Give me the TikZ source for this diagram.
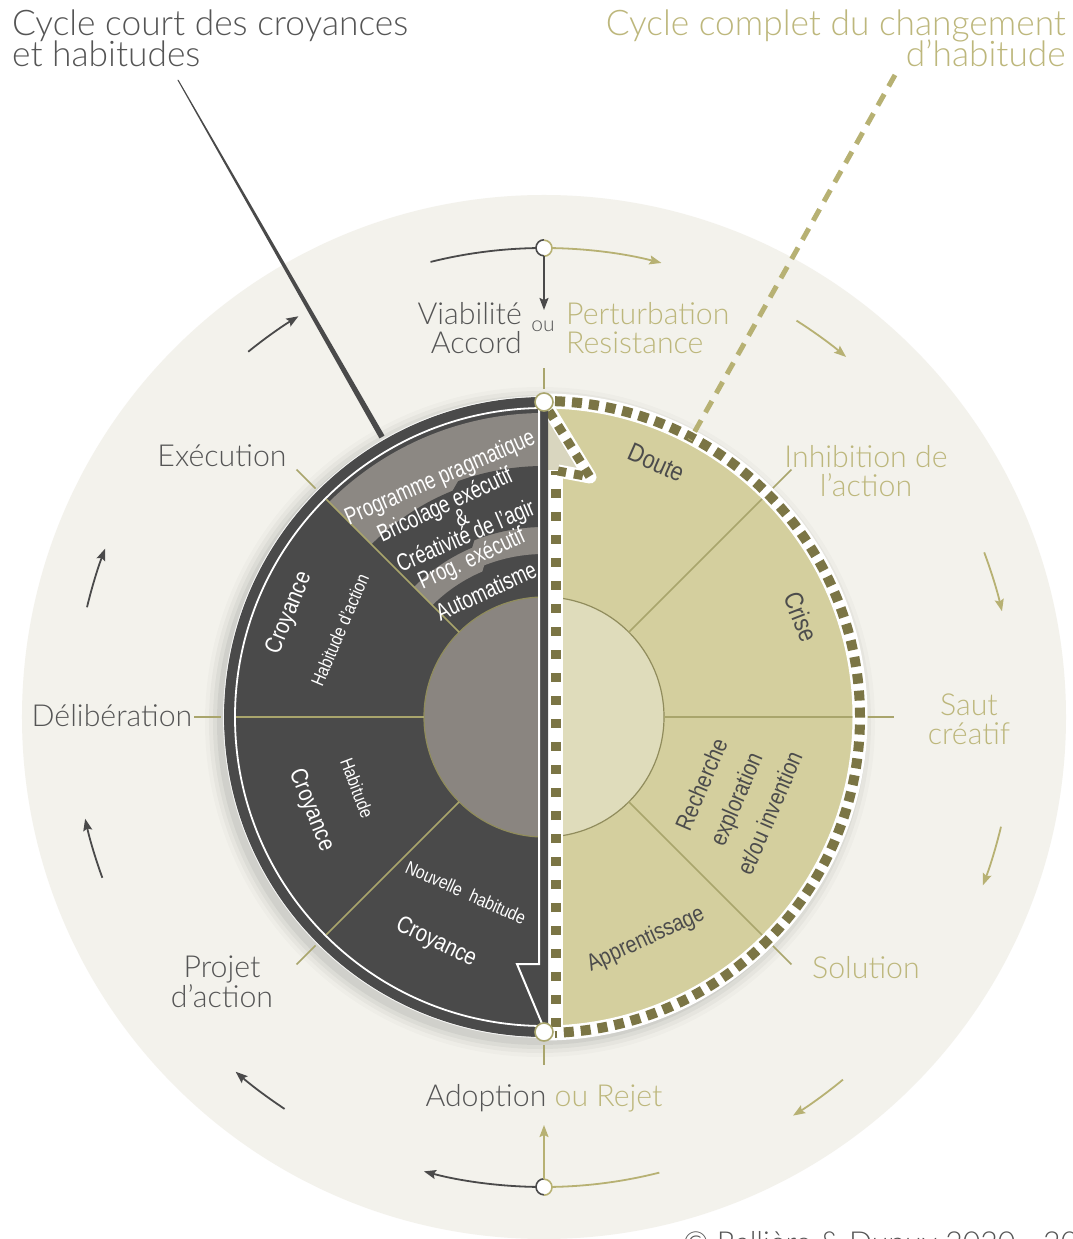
\documentclass[tikz,border=0pt]{standalone}
\usepackage{fontspec}
\IfFontExistsTF{Lato Light}{\newfontfamily\lightf{Lato Light}}{\newfontfamily\lightf{Liberation Sans}}
\newfontfamily\condf[FakeStretch=0.84]{Liberation Sans}
\newfontfamily\condn[FakeStretch=0.76]{Liberation Sans}
\usetikzlibrary{arrows.meta}
\definecolor{cream}{HTML}{F3F2EC}
\definecolor{darkdisk}{HTML}{4A4A4A}
\definecolor{bandgray}{HTML}{8C8883}
\definecolor{innergray}{HTML}{8A8580}
\definecolor{olivefill}{HTML}{D4CF9E}
\definecolor{innerolive}{HTML}{DFDCBB}
\definecolor{oliveline}{HTML}{A9A56C}
\definecolor{olivedash}{HTML}{7B7545}
\definecolor{olivetext}{HTML}{BDB77C}
\definecolor{olivearrow}{HTML}{B7B173}
\definecolor{labeldark}{HTML}{555555}
\definecolor{sectortext}{HTML}{4C4C4C}
\definecolor{arrowdark}{HTML}{4A4A4A}
\definecolor{tipfill}{HTML}{D9D6BF}
\begin{document}
\begin{tikzpicture}[x=1pt,y=1pt,
  lab/.style={font=\lightf\fontsize{30.3}{30}\selectfont, text=labeldark, inner sep=0pt},
  olab/.style={lab, text=olivetext},
  ttl/.style={font=\lightf\fontsize{35.3}{35}\selectfont, text=labeldark, inner sep=0pt},
  ottl/.style={ttl, text=olivetext},
  stxt/.style={font=\condn\fontsize{24.3}{24}\selectfont, text=white, inner sep=0pt},
  ssml/.style={font=\condf\fontsize{18.5}{18.5}\selectfont, text=white, inner sep=0pt},
  sbig/.style={font=\condf\fontsize{24}{24}\selectfont, text=white, inner sep=0pt},
  rtxt/.style={font=\condf\fontsize{24}{24}\selectfont, text=sectortext, inner sep=0pt},
  ringdark/.style={draw=arrowdark, line width=1.8, -{Stealth[length=12,width=9,inset=2]}},
  ringolive/.style={draw=olivearrow, line width=1.8, -{Stealth[length=12,width=9,inset=2]}},
  divider/.style={draw=oliveline, line width=1.6},
  dashring/.style={draw=olivedash, line width=10, dash pattern=on 10 off 7},
  knot/.style={circle, fill=white, draw=oliveline, line width=1.6, minimum size=18, inner sep=0pt},
  ringknot/.style={circle, fill=white, minimum size=16, inner sep=0pt}
]
\path[use as bounding box, fill=white] (-544,-522) rectangle (529,717);
\fill[cream] (0,0) circle (522);
% soft shadow
\foreach \r/\o in {335/0.02,331/0.03,327/0.04,323/0.05} \fill[black,opacity=\o] (-4,-5) circle (\r);
% left dark half
\fill[darkdisk] (90:320) arc (90:270:320) -- cycle;
\draw[white, line width=0.8, opacity=0.8] (90:320.5) arc (90:270:320.5);
\draw[white, line width=1.8] (90:309) arc (90:270:309);
% bands in upper-left sector
\fill[bandgray] (90:304) arc (90:135:304) -- (135:158) arc (135:113:158) -- (111.5:163) arc (111.5:90:163) -- cycle;
\fill[darkdisk] (90:251) arc (90:110:251) -- (112:244) arc (112:135:244) -- (135:184) arc (135:113:184) -- (111.5:190) arc (111.5:90:190) -- cycle;
% right olive half
\fill[olivefill] (90:310) arc (90:-90:310) -- cycle;
% inner circle
\fill[innergray] (90:120) arc (90:270:120) -- cycle;
\fill[innerolive] (90:120) arc (90:-90:120) -- cycle;
\draw[oliveline!85!black, line width=1.2] (0,0) circle (120);
% dividers and ticks
\foreach \a in {135,180,225} \draw[divider] (\a:120) -- (\a:308);
\foreach \a in {45,0,-45} \draw[divider] (\a:120) -- (\a:310);
\foreach \a in {135,180,225,45,0,-45} \draw[divider] (\a:323) -- (\a:350);
\draw[divider] (90:328) -- (90:349);
\draw[divider] (270:328) -- (270:348);
% dashed ring
\draw[white, line width=15] (90:316) arc (90:-90:316);
\draw[dashring] (88:316) arc (88:-88:316);
% olive arrow head and shaft
\fill[tipfill] (4,309) -- (46,240) -- (11.5,246) -- (4,246) -- cycle;
\draw[white, line width=15] (11.5,-314) -- (11.5,247);
\draw[white, line width=13, line join=round] (4,309) -- (46,240) -- (14,246);
\draw[olivedash, line width=10, dash pattern=on 9 off 14] (11.5,-310) -- (11.5,246);
\draw[olivedash, line width=9, dash pattern=on 9 off 8] (5,306) -- (46,240) -- (14,246);
% dark arrow
\fill[darkdisk] (4,312) -- (-5,312) -- (-5,-247) -- (-27,-247) -- (-1,-309) -- (4,-309) -- cycle;
\draw[white, line width=2, line join=miter] (-5,312) -- (-5,-247) -- (-27,-247) -- (-1,-309);
% knots
\node[knot] (topknot) at (0,315) {};
\node[knot] (botknot) at (0,-315) {};
% pointer lines
\coordinate (ptA) at (-366,637);
\coordinate (ptB) at (-162,280);
\fill[arrowdark] (-366.6,637) -- (-365.4,637) -- (-159.5,281.4) -- (-164.5,278.6) -- cycle;
\coordinate (pcA) at (351,642);
\coordinate (pcB) at (146,277);
\draw[olivearrow, line width=5, dash pattern=on 13 off 9] (pcA) -- (pcB);
% ring: top
\node[ringknot] (rt) at (90:469) {};
\draw[arrowdark, line width=1.8] (104:469) arc (104:90.9:469);
\draw[ringolive] (89.1:469) arc (89.1:75.5:469);
\draw[arrowdark, line width=1.6] (rt.north) arc (90:270:8);
\draw[olivearrow, line width=1.6] (rt.south) arc (-90:90:8);
\draw[ringdark] (rt.south) -- (0,407);
% ring: bottom
\node[ringknot] (rb) at (270:470) {};
\draw[ringdark] (269.1:470) arc (269.1:255.2:470);
\draw[olivearrow, line width=1.8] (270.9:470) arc (270.9:284.2:470);
\draw[arrowdark, line width=1.6] (rb.north) arc (90:270:8);
\draw[olivearrow, line width=1.6] (rb.south) arc (-90:90:8);
\draw[ringolive] (rb.north) -- (0,-408);
% short arcs
\foreach \s/\e in {236.5/229, 200/192.5, 166.5/159, 129/121.5}
  \draw[ringdark] (\s:470) arc (\s:\e:470);
\foreach \s/\e in {57.5/50, 20.5/13, -13.5/-21, -50.5/-58}
  \draw[ringolive] (\s:470) arc (\s:\e:470);
% titles
\node[ttl, anchor=base west] (t1) at (-532,681) {Cycle court des croyances};
\node[ttl, anchor=base west] (t2) at (-532,650) {et habitudes};
\node[ottl, anchor=base east] (t3) at (522,681) {Cycle complet du changement};
\node[ottl, anchor=base east] (t4) at (522,650) {d’habitude};
% outer labels
\node[lab, anchor=base east] (via) at (-22,392) {Viabilité};
\node[lab, anchor=base east] (acc) at (-22,363) {Accord};
\node[lab, font=\lightf\fontsize{21}{21}\selectfont, anchor=base] (ou) at (-1,385) {ou};
\node[olab, anchor=base west] (per) at (22,392) {Perturbation};
\node[olab, anchor=base west] (res) at (22,363) {Resistance};
\node[lab, anchor=base] (exe) at (-322,250) {Exécution};
\node[lab, anchor=base] (del) at (-432,-10) {Délibération};
\node[lab, anchor=base] (pro) at (-322,-260) {Projet};
\node[lab, anchor=base] (pda) at (-322,-290) {d’action};
\node[lab, anchor=base] (ado) at (0,-389) {Adoption \textcolor{olivetext}{ou Rejet}};
\node[olab, anchor=base] (inh) at (322,249) {Inhibition de};
\node[olab, anchor=base] (lac) at (322,220) {l’action};
\node[olab, anchor=base] (sau) at (425,1) {Saut};
\node[olab, anchor=base] (cre) at (425,-28) {créatif};
\node[olab, anchor=base] (sol) at (322,-261) {Solution};
\node[lab, anchor=base west] (copy) at (139,-536) {© Rallière \& Dupuy 2020 - 2022};
% sector texts, left
\node[stxt, rotate=23.5] (pp) at (113.5:260) {Programme pragmatique};
\node[stxt, rotate=25] (be) at (115:233) {Bricolage exécutif};
\node[stxt, rotate=22.5] (amp) at (112.5:216) {\&};
\node[stxt, rotate=23.4] (ca) at (113.4:196) {Créativité de l’agir};
\node[stxt, rotate=24.6] (pe) at (114.6:173) {Prog. exécutif};
\node[stxt, rotate=24.7] (au) at (114.7:139) {Automatisme};
\node[sbig, rotate=67.8] (cr1) at (157.8:275) {Croyance};
\node[ssml, rotate=66.9] (hda) at (156.9:222) {Habitude d’action};
\node[ssml, rotate=-69.2] (hab) at (200.8:200) {Habitude};
\node[sbig, rotate=-68.2] (cr2) at (201.8:251) {Croyance};
\node[ssml, rotate=-24] (nh) at (246:192) {Nouvelle\hspace{0.5em}habitude};
\node[sbig, rotate=-25.6] (cr3) at (244.4:250) {Croyance};
% sector texts, right
\node[rtxt, font=\condf\fontsize{26}{26}\selectfont, rotate=-23.8] (dou) at (66.2:278) {Doute};
\node[rtxt, font=\condf\fontsize{26}{26}\selectfont, rotate=-68.7] (cri) at (21.3:276) {Crise};
\node[rtxt, rotate=66.8] (rec) at (-23.2:171) {Recherche};
\node[rtxt, rotate=66.8] (exp) at (-23.2:211) {exploration};
\node[rtxt, rotate=66.8] (eti) at (-23.1:245) {et/ou invention};
\node[rtxt, font=\condf\fontsize{23.5}{23.5}\selectfont, rotate=24.6] (app) at (-65.4:245) {Apprentissage};
\end{tikzpicture}
\end{document}
